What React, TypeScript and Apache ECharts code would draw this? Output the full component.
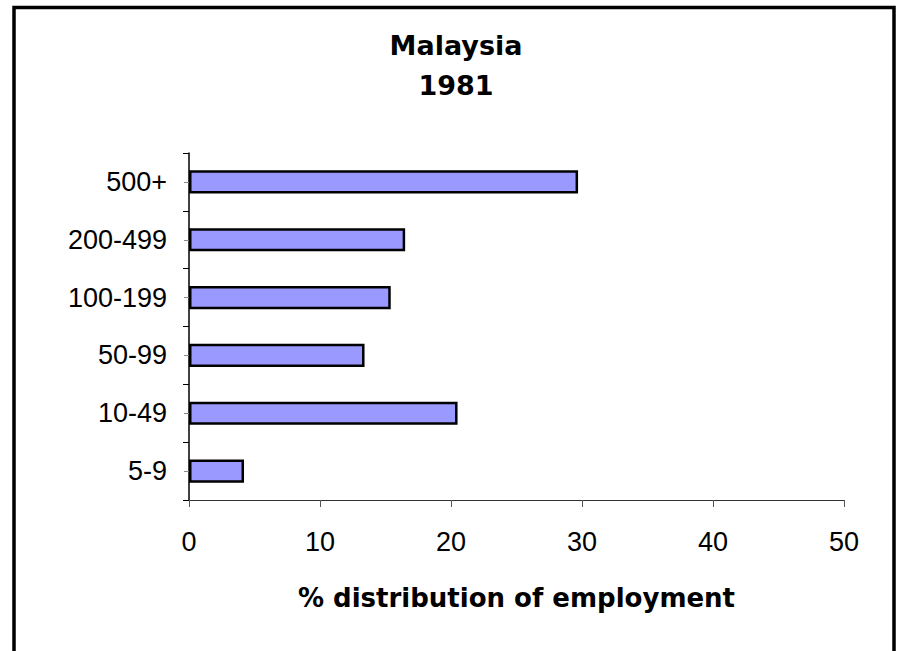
import React, { useEffect, useRef } from "react";
import * as echarts from "echarts";

const categories = ["5-9", "10-49", "50-99", "100-199", "200-499", "500+"];
const employmentShare = [4.2, 20.5, 13.4, 15.4, 16.5, 29.7];
const xTicks = [0, 10, 20, 30, 40, 50];
const titleLines = ["Malaysia", "1981"];
const xAxisTitle = "% distribution of employment";

export default function App() {
  const ref = useRef<HTMLDivElement>(null);

  useEffect(() => {
    if (!ref.current) return;
    const chart = echarts.init(ref.current, undefined, { renderer: "svg" });
    const option: any = {
      animation: false,
      backgroundColor: "#ffffff",
      grid: { left: 189, right: 53, top: 153, bottom: 151, containLabel: false },
      xAxis: {
        type: "value",
        min: xTicks[0],
        max: xTicks[xTicks.length - 1],
        interval: 10,
        splitLine: { show: false },
        axisLine: { show: true, lineStyle: { color: "#333333", width: 1 } },
        axisTick: { show: true, length: 7, lineStyle: { color: "#555555", width: 1 } },
        axisLabel: {
          margin: 28,
          color: "#000000",
          fontFamily: "Liberation Sans, Arial, sans-serif",
          fontSize: 27,
        },
        name: xAxisTitle,
        nameLocation: "middle",
        nameGap: 85,
        nameTextStyle: {
          color: "#000000",
          fontFamily: "DejaVu Sans, sans-serif",
          fontWeight: "bold",
          fontSize: 26,
        },
      },
      yAxis: [
        {
          type: "category",
          data: categories,
          axisLine: { show: true, onZero: false, lineStyle: { color: "#000000", width: 1.5 } },
          axisTick: { show: true, length: 6, alignWithLabel: false, lineStyle: { color: "#000000", width: 1 } },
          axisLabel: {
            margin: 22,
            color: "#000000",
            fontFamily: "Liberation Sans, Arial, sans-serif",
            fontSize: 27,
          },
          splitLine: { show: false },
        },
        {
          type: "category",
          data: categories,
          position: "left",
          axisLine: { show: false },
          axisTick: { show: true, length: 5, alignWithLabel: true, lineStyle: { color: "#888888", width: 1 } },
          axisLabel: { show: false },
          splitLine: { show: false },
        },
      ],
      series: [
        {
          type: "bar",
          data: employmentShare,
          yAxisIndex: 0,
          barWidth: "40%",
          itemStyle: { color: "#9999FF", borderColor: "#000000", borderWidth: 2.5 },
        },
      ],
      graphic: [
        {
          type: "rect",
          shape: { x: 14, y: 7.5, width: 880, height: 720 },
          style: { fill: "none", stroke: "#000000", lineWidth: 3.5 },
          silent: true,
          z: 100,
        },
        {
          type: "text",
          x: 456,
          y: 25,
          style: {
            text: titleLines.join("\n"),
            align: "center",
            verticalAlign: "top",
            fill: "#000000",
            font: "bold 27px 'DejaVu Sans', sans-serif",
            lineHeight: 40,
          },
        },
      ],
    };
    chart.setOption(option);
    return () => chart.dispose();
  }, []);

  return (
    <div
      ref={ref}
      style={{ position: "fixed", left: 0, top: 0, width: 897, height: 651, background: "#fff" }}
    />
  );
}
